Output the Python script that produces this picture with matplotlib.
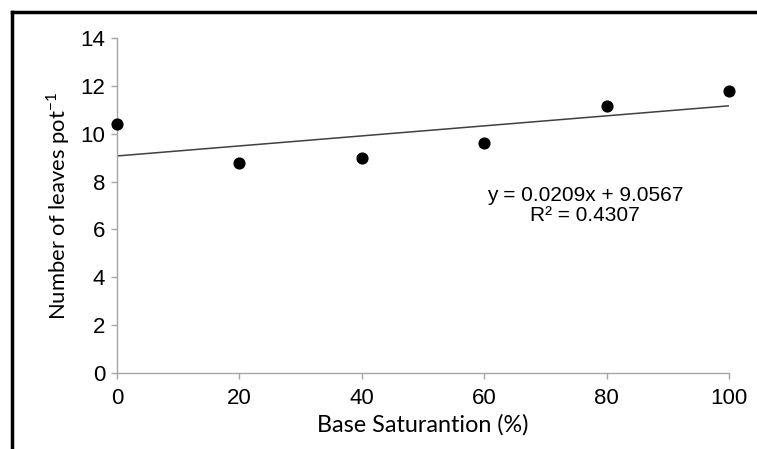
import matplotlib
matplotlib.use("Agg")
import matplotlib.pyplot as plt
import numpy as np
from matplotlib.lines import Line2D

base_saturation = [0, 20, 40, 60, 80, 100]
leaves = [10.4, 8.76, 9.0, 9.63, 11.14, 11.78]
x_ticks = [0, 20, 40, 60, 80, 100]
y_ticks = [0, 2, 4, 6, 8, 10, 12, 14]
equation = "y = 0.0209x + 9.0567\nR² = 0.4307"

plt.rcParams['font.family'] = ['Liberation Sans', 'DejaVu Sans']

fig = plt.figure(figsize=(7.57, 4.49), dpi=100)
ax = fig.add_axes([117/757, 1-373/449, (729-117)/757, (373-38)/449])

ax.scatter(base_saturation, leaves, s=60, color='black', zorder=3)
coef = np.polyfit(base_saturation, leaves, 1)
xs = np.array([0, 100])
ax.plot(xs, np.polyval(coef, xs), color='#404040', lw=1.1, zorder=2)

ax.set_xlim(0, 100)
ax.set_ylim(0, 14)
ax.set_xticks(x_ticks)
ax.set_yticks(y_ticks)
ax.set_xticklabels([str(v) for v in x_ticks])
ax.set_yticklabels([str(v) for v in y_ticks])

for s in ['top', 'right']:
    ax.spines[s].set_visible(False)
for s in ['left', 'bottom']:
    ax.spines[s].set_color('#a6a6a6')
    ax.spines[s].set_linewidth(1.0)
ax.tick_params(axis='both', colors='#a6a6a6', length=4.5, width=1.0, labelcolor='black', labelsize=16)
ax.tick_params(axis='x', pad=6)
ax.tick_params(axis='y', pad=4)
for c in ax.collections:
    c.set_clip_on(False)

ax.set_xlabel("Base Saturantion (%)", fontsize=16.8, family=['Lato', 'DejaVu Sans'])
ax.set_ylabel("Number of leaves pot$^{\\mathregular{-1}}$", fontsize=15.8, family=['Lato', 'DejaVu Sans'])
ax.xaxis.set_label_coords(0.5, -(425-373)/335)
ax.yaxis.set_label_coords(-(117-58)/612, 0.5)
ax.xaxis.label.set_va('center')
ax.yaxis.label.set_va('center')

ax.text(76.5, 7.0, equation, ha='center', va='center', fontsize=15, linespacing=1.1)

fig.add_artist(Line2D([12/757, 12/757], [0, 1-12/449], transform=fig.transFigure, color='black', lw=2.5))
fig.add_artist(Line2D([12/757, 1], [1-12/449, 1-12/449], transform=fig.transFigure, color='black', lw=2.5))

fig.savefig("out.png", dpi=100)
